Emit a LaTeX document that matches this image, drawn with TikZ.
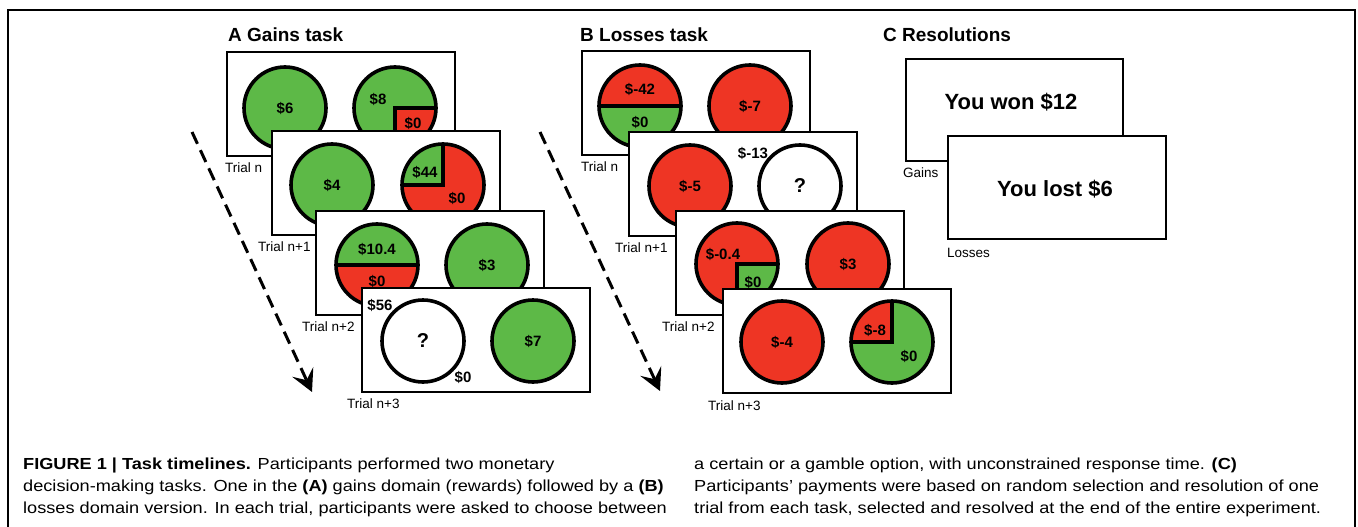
\documentclass[tikz,border=0pt]{standalone}
\usepackage{fontspec}
\setmainfont{Liberation Sans}
\newfontfamily\capfont[FakeStretch=1.135]{Liberation Sans}
\usetikzlibrary{arrows.meta}
\definecolor{gr}{RGB}{93,185,71}
\definecolor{rd}{RGB}{238,53,36}
\begin{document}
\begin{tikzpicture}[x=1pt,y=1pt,
  frm/.style={draw=black,line width=1.7pt,fill=white,minimum width=228pt,minimum height=104pt,anchor=north west,inner sep=0pt,outer sep=0pt},
  resfrm/.style={draw=black,line width=1.7pt,fill=white,minimum width=217pt,minimum height=102pt,anchor=north west,inner sep=0pt,outer sep=0pt},
  ring/.style={draw=black,line width=3.6pt},
  div/.style={draw=black,line width=3.2pt},
  amt/.style={font=\fontsize{15}{15}\selectfont\bfseries,inner sep=0pt},
  qmark/.style={font=\fontsize{20}{20}\selectfont\bfseries,inner sep=0pt},
  lbl/.style={font=\fontsize{13.5}{13.5}\selectfont,anchor=west,inner sep=0pt},
  ttl/.style={font=\fontsize{19}{19}\selectfont\bfseries,anchor=base west,inner sep=0pt},
  res/.style={font=\fontsize{22}{22}\selectfont\bfseries,inner sep=0pt},
  captxt/.style={font=\capfont\fontsize{16}{16}\selectfont,anchor=base west,inner sep=0pt},
  timeline/.style={line width=3pt,dash pattern=on 13pt off 7pt,-{Stealth[length=22pt,width=23pt,inset=9pt]}}
]
\useasboundingbox (0,0) rectangle (1358,-527);
\newcommand\plaindisc[3]{\fill[#2] (#1) circle[radius=41]; \draw[ring] (#1) circle[radius=41]; \node[amt] (#1t) at (#1) {#3};}
% outer frame
\draw[line width=2.5pt] (8,-527) -- (8,-10) -- (1355,-10) -- (1355,-527);
% titles
\node[ttl] (titA) at (228,-42) {A Gains task};
\node[ttl] (titB) at (580,-42) {B Losses task};
\node[ttl] (titC) at (883,-42) {C Resolutions};
% timeline arrows
\coordinate (arAs) at (192,-132); \coordinate (arAe) at (312,-392);
\draw[timeline] (arAs) -- (arAe);
\coordinate (arBs) at (540,-132); \coordinate (arBe) at (660,-391);
\draw[timeline] (arBs) -- (arBe);
% ---------- Gains task ----------
\begin{scope}[shift={(227,-52)}]
  \node[frm] (fA1) at (0,0) {};
  \coordinate (cAal) at (58,-56); \coordinate (cAar) at (168,-56);
  \plaindisc{cAal}{gr}{\$6}
  \fill[gr] (cAar) circle[radius=41];
  \fill[rd] (cAar) -- ++(41,0) arc[start angle=0,end angle=-90,radius=41] -- cycle;
  \draw[div] (cAar) ++(41,0) -- (cAar) -- ++(0,-41);
  \draw[ring] (cAar) circle[radius=41];
  \node[amt] (tAa1) at ([shift={(-17pt,9pt)}]cAar) {\$8};
  \node[amt] (tAa2) at ([shift={(18pt,-15pt)}]cAar) {\$0};
  \node[lbl] (lA1) at (-2,-116) {Trial n};
\end{scope}
\begin{scope}[shift={(272,-131)}]
  \node[frm] (fA2) at (0,0) {};
  \coordinate (cAbl) at (60,-54); \coordinate (cAbr) at (171,-54);
  \plaindisc{cAbl}{gr}{\$4}
  \fill[rd] (cAbr) circle[radius=41];
  \fill[gr] (cAbr) -- ++(0,41) arc[start angle=90,end angle=180,radius=41] -- cycle;
  \draw[div] (cAbr) ++(0,41) -- (cAbr) -- ++(-41,0);
  \draw[ring] (cAbr) circle[radius=41];
  \node[amt] (tAb1) at ([shift={(-18pt,13pt)}]cAbr) {\$44};
  \node[amt] (tAb2) at ([shift={(14pt,-13pt)}]cAbr) {\$0};
  \node[lbl] (lA2) at (-14,-116) {Trial n+1};
\end{scope}
\begin{scope}[shift={(316,-211)}]
  \node[frm] (fA3) at (0,0) {};
  \coordinate (cAcl) at (61,-54); \coordinate (cAcr) at (171,-54);
  \fill[gr] (cAcl) circle[radius=41];
  \fill[rd] (cAcl) ++(41,0) arc[start angle=0,end angle=-180,radius=41] -- cycle;
  \draw[div] ([xshift=-41pt]cAcl) -- ([xshift=41pt]cAcl);
  \draw[ring] (cAcl) circle[radius=41];
  \node[amt] (tAc1) at ([yshift=16pt]cAcl) {\$10.4};
  \node[amt] (tAc2) at ([yshift=-16pt]cAcl) {\$0};
  \plaindisc{cAcr}{gr}{\$3}
  \node[lbl] (lA3) at (-14,-116) {Trial n+2};
\end{scope}
\begin{scope}[shift={(362,-288)}]
  \node[frm] (fA4) at (0,0) {};
  \coordinate (cAdl) at (61,-53); \coordinate (cAdr) at (171,-53);
  \fill[white] (cAdl) circle[radius=41];
  \draw[ring] (cAdl) circle[radius=41];
  \node[qmark] (tAd0) at (cAdl) {?};
  \node[amt] (tAd1) at ([shift={(-43pt,36pt)}]cAdl) {\$56};
  \node[amt] (tAd2) at ([shift={(40pt,-36pt)}]cAdl) {\$0};
  \plaindisc{cAdr}{gr}{\$7}
  \node[lbl] (lA4) at (-15,-116) {Trial n+3};
\end{scope}
% ---------- Losses task ----------
\begin{scope}[shift={(582,-51)}]
  \node[frm] (fB1) at (0,0) {};
  \coordinate (cBal) at (58,-55); \coordinate (cBar) at (168,-55);
  \fill[rd] (cBal) circle[radius=41];
  \fill[gr] (cBal) ++(41,0) arc[start angle=0,end angle=-180,radius=41] -- cycle;
  \draw[div] ([xshift=-41pt]cBal) -- ([xshift=41pt]cBal);
  \draw[ring] (cBal) circle[radius=41];
  \node[amt] (tBa1) at ([yshift=17pt]cBal) {\$-42};
  \node[amt] (tBa2) at ([yshift=-16pt]cBal) {\$0};
  \plaindisc{cBar}{rd}{\$-7}
  \node[lbl] (lB1) at (-1,-116) {Trial n};
\end{scope}
\begin{scope}[shift={(629,-132)}]
  \node[frm] (fB2) at (0,0) {};
  \coordinate (cBbl) at (61,-54); \coordinate (cBbr) at (171,-54);
  \plaindisc{cBbl}{rd}{\$-5}
  \fill[white] (cBbr) circle[radius=41];
  \draw[ring] (cBbr) circle[radius=41];
  \node[qmark] (tBb0) at (cBbr) {?};
  \node[amt] (tBb1) at ([shift={(-47pt,33pt)}]cBbr) {\$-13};
  \node[lbl] (lB2) at (-14,-116) {Trial n+1};
\end{scope}
\begin{scope}[shift={(676,-211)}]
  \node[frm] (fB3) at (0,0) {};
  \coordinate (cBcl) at (61,-53); \coordinate (cBcr) at (172,-53);
  \fill[rd] (cBcl) circle[radius=41];
  \fill[gr] (cBcl) -- ++(41,0) arc[start angle=0,end angle=-90,radius=41] -- cycle;
  \draw[div] (cBcl) ++(41,0) -- (cBcl) -- ++(0,-41);
  \draw[ring] (cBcl) circle[radius=41];
  \node[amt] (tBc1) at ([shift={(-14pt,10pt)}]cBcl) {\$-0.4};
  \node[amt] (tBc2) at ([shift={(16pt,-18pt)}]cBcl) {\$0};
  \plaindisc{cBcr}{rd}{\$3}
  \node[lbl] (lB3) at (-14,-116) {Trial n+2};
\end{scope}
\begin{scope}[shift={(723,-289)}]
  \node[frm] (fB4) at (0,0) {};
  \coordinate (cBdl) at (59,-53); \coordinate (cBdr) at (169,-53);
  \plaindisc{cBdl}{rd}{\$-4}
  \fill[gr] (cBdr) circle[radius=41];
  \fill[rd] (cBdr) -- ++(0,41) arc[start angle=90,end angle=180,radius=41] -- cycle;
  \draw[div] (cBdr) ++(0,41) -- (cBdr) -- ++(-41,0);
  \draw[ring] (cBdr) circle[radius=41];
  \node[amt] (tBd1) at ([shift={(-17pt,12pt)}]cBdr) {\$-8};
  \node[amt] (tBd2) at ([shift={(17pt,-14pt)}]cBdr) {\$0};
  \node[lbl] (lB4) at (-15,-117) {Trial n+3};
\end{scope}
% ---------- Resolutions ----------
\node[resfrm] (fCg) at (906,-59) {};
\node[res] (tCg) at (1011,-102) {You won \$12};
\node[lbl] (lCg) at (903,-173) {Gains};
\node[resfrm,minimum width=218pt,minimum height=103pt] (fCl) at (948,-136) {};
\node[res] (tCl) at (1055,-189) {You lost \$6};
\node[lbl] (lCl) at (947,-253) {Losses};
% ---------- Caption ----------
\node[captxt] (cap1) at (23,-469) {\textbf{FIGURE 1 | Task timelines.} Participants performed two monetary};
\node[captxt] (cap2) at (23,-491) {decision-making tasks. One in the \textbf{(A)} gains domain (rewards) followed by a \textbf{(B)}};
\node[captxt] (cap3) at (23,-513) {losses domain version. In each trial, participants were asked to choose between};
\node[captxt] (cap4) at (694,-469) {a certain or a gamble option, with unconstrained response time. \textbf{(C)}};
\node[captxt] (cap5) at (694,-491) {Participants’ payments were based on random selection and resolution of one};
\node[captxt] (cap6) at (694,-513) {trial from each task, selected and resolved at the end of the entire experiment.};
\end{tikzpicture}
\end{document}
